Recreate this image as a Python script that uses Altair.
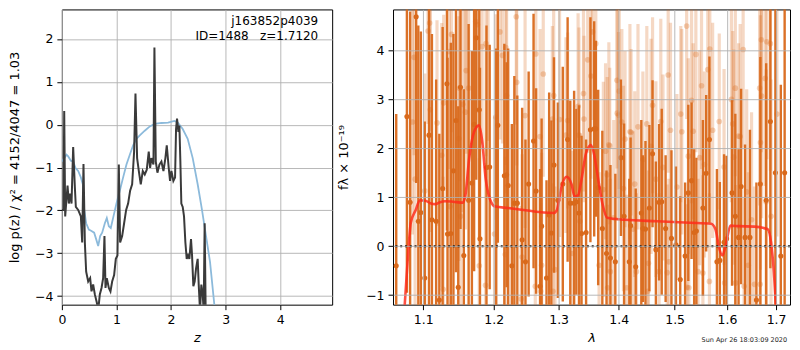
import altair as alt
import pandas as pd

# ---------------- left panel: log p(z) ----------------
z_black = [0.000, 0.030, 0.043, 0.061, 0.104, 0.128, 0.152, 0.177, 0.207, 0.238,
           0.256, 0.299, 0.348, 0.372, 0.396, 0.421, 0.445, 0.482, 0.518, 0.543,
           0.573, 0.604, 0.640, 0.665, 0.695, 0.726, 0.756, 0.780, 0.799, 0.823,
           0.860, 0.890, 0.921, 0.957, 0.988, 1.018, 1.043, 1.067, 1.104, 1.140,
           1.177, 1.213, 1.250, 1.287, 1.323, 1.348, 1.378, 1.409, 1.445, 1.482,
           1.518, 1.555, 1.591, 1.616, 1.640, 1.677, 1.695, 1.720, 1.750, 1.787,
           1.823, 1.860, 1.896, 1.921, 1.957, 1.981, 2.006, 2.042, 2.073, 2.091,
           2.109, 2.134, 2.152, 2.170, 2.188, 2.213, 2.237, 2.262, 2.286, 2.310,
           2.335, 2.365, 2.384, 2.408, 2.432, 2.457, 2.487, 2.506, 2.530, 2.554,
           2.579, 2.597, 2.615, 2.634, 2.652]
lp_black = [-1.99, -1.99, 0.32, -2.14, -1.42, -1.84, -1.61, -1.84, -0.52, -1.46,
            -1.92, -1.99, -2.14, -2.75, -0.92, -2.75, -3.43, -3.66, -3.58, -3.89,
            -3.73, -3.96, -4.15, -4.34, -3.96, -3.81, -3.58, -2.60, -3.81, -3.58,
            -3.81, -3.89, -3.66, -3.51, -3.13, -3.05, -0.93, -2.75, -2.60, -2.30,
            -1.99, -1.84, -1.54, -1.39, -0.63, 0.73, -0.78, -1.08, -1.39, -1.08,
            -1.16, -1.05, -0.63, -1.01, -0.78, -0.93, 1.80, -0.86, -1.12, -0.93,
            -0.86, -1.08, -0.78, -0.48, -1.01, -1.31, -1.08, -1.31, -1.23, -0.10,
            0.14, -0.17, -0.02, -0.86, -1.84, -1.92, -2.14, -2.75, -3.13, -3.05,
            -3.13, -2.67, -3.05, -3.77, -3.66, -3.36, -3.13, -3.73, -4.34, -3.73,
            -3.96, -4.34, -2.30, -4.42, -5.60]

z_blue = [0.000, 0.043, 0.085, 0.116, 0.165, 0.207, 0.250, 0.299, 0.348, 0.384,
          0.409, 0.445, 0.494, 0.543, 0.591, 0.628, 0.665, 0.701, 0.738, 0.787,
          0.823, 0.860, 0.896, 0.945, 1.000, 1.061, 1.122, 1.183, 1.244, 1.305,
          1.366, 1.427, 1.518, 1.610, 1.701, 1.823, 1.945, 2.060, 2.121, 2.213,
          2.304, 2.396, 2.487, 2.566, 2.640, 2.713, 2.792, 2.835]
lp_blue = [-0.86, -0.78, -0.70, -0.74, -0.84, -0.86, -1.01, -1.08, -1.23, -1.39,
           -1.99, -2.30, -2.45, -2.48, -2.52, -2.67, -2.83, -2.60, -2.52, -2.30,
           -2.18, -2.37, -2.41, -2.14, -1.84, -1.54, -1.23, -0.93, -0.70, -0.48,
           -0.33, -0.25, -0.14, -0.04, 0.02, 0.04, 0.05, 0.09, 0.05, -0.10,
           -0.33, -0.78, -1.39, -1.99, -2.60, -3.20, -4.20, -4.87]

z_ticks = [0, 1, 2, 3, 4]
lp_ticks = [-4, -3, -2, -1, 0, 1, 2]
label_obj = "j163852p4039"
label_id = "ID=1488\u00a0\u00a0\u00a0z=1.7120"

# ---------------- right panel: spectrum ----------------
dark_wave = [1.0640, 1.0781, 1.0824, 1.0905, 1.0934, 1.0968, 1.1021, 1.1079, 1.1119, 1.1177,
             1.1221, 1.1267, 1.1327, 1.1335, 1.1381, 1.1418, 1.1454, 1.1486, 1.1518, 1.1565,
             1.1634, 1.1681, 1.1713, 1.1744, 1.1788, 1.1798, 1.1893, 1.1940, 1.2037, 1.2061,
             1.2158, 1.2192, 1.2216, 1.2271, 1.2309, 1.2354, 1.2428, 1.2479, 1.2528, 1.2604,
             1.2644, 1.2706, 1.2730, 1.2807, 1.2849, 1.2884, 1.2926, 1.2988, 1.3067, 1.3145,
             1.3188, 1.3251, 1.3287, 1.3331, 1.3373, 1.3448, 1.3520, 1.3583, 1.3610, 1.3650,
             1.3720, 1.3791, 1.3858, 1.3942, 1.4038, 1.4093, 1.4184, 1.4207, 1.4297, 1.4396,
             1.4424, 1.4470, 1.4540, 1.4597, 1.4657, 1.4715, 1.4763, 1.4834, 1.4941, 1.5024,
             1.5104, 1.5195, 1.5255, 1.5316, 1.5366, 1.5408, 1.5532, 1.5595, 1.5658, 1.5803,
             1.5860, 1.5943, 1.5993, 1.6101, 1.6166, 1.6231, 1.6282, 1.6361, 1.6460, 1.6592,
             1.6673, 1.6793, 1.6880, 1.6985, 1.7099, 1.7180]
dark_flux = [-0.40, 2.65, 0.90, 4.69, 0.51, 0.69, -0.65, 2.27, 0.54, 0.51,
             -1.10, 1.18, 3.32, 0.25, 0.26, 1.54, 2.57, -0.84, 3.25, -0.19,
             0.94, 1.29, 2.49, 4.26, 2.79, 0.15, 1.61, 1.62, 0.94, 2.47,
             1.44, 1.46, 1.24, -0.40, 0.88, 0.88, 0.13, -0.32, 1.27, 2.15,
             1.13, -0.82, 0.41, -0.65, 0.64, 0.27, 1.66, 0.94, 1.27, 2.18,
             0.88, 0.88, 0.91, 0.68, 0.26, 0.28, 2.38, 2.40, 2.40, 1.20,
             0.36, -0.15, -0.24, -0.32, 1.81, 0.61, -0.32, 0.42, -0.42, 0.68,
             0.36, 0.35, 0.78, 1.89, -0.07, 0.90, 0.91, 0.36, 0.16, 0.03,
             -0.68, -0.20, 1.09, 1.34, 0.28, 0.31, 0.78, 1.49, 2.18, -0.32,
             -0.29, 0.08, 0.15, 1.09, 0.61, 0.18, 1.22, 0.18, 0.18, -1.10,
             1.27, 0.94, 2.55, 1.50, -0.20, 1.50]
dark_err = [3.1, 3.6, 3.9, 3.4, 4.0, 3.7, 3.2, 3.5, 3.8, 2.9,
            3.4, 3.3, 3.0, 3.6, 3.9, 2.8, 3.1, 3.7, 2.9, 3.4,
            3.6, 2.7, 3.0, 2.9, 2.6, 3.5, 2.9, 2.5, 3.1, 2.4,
            2.7, 2.3, 2.8, 2.9, 2.6, 2.2, 2.7, 2.5, 2.3, 2.6,
            2.1, 2.4, 2.2, 2.0, 2.5, 2.3, 2.2, 2.0, 2.4, 2.5,
            2.1, 2.3, 1.9, 2.2, 2.0, 1.9, 2.3, 2.2, 1.8, 2.0,
            2.0, 1.7, 1.9, 1.8, 1.6, 1.9, 1.7, 1.8, 1.6, 1.9,
            1.5, 1.8, 1.7, 1.5, 1.8, 1.6, 1.9, 1.5, 1.8, 1.6,
            1.7, 1.5, 1.8, 1.6, 1.7, 1.5, 1.8, 1.6, 1.7, 1.9,
            1.6, 1.8, 1.7, 1.9, 2.1, 1.8, 2.0, 1.9, 2.2, 2.4,
            2.6, 2.8, 3.0, 3.6, 3.5, 4.0]

light_wave = [1.0855, 1.0877, 1.0891, 1.1021, 1.1066, 1.1088, 1.1097, 1.1189, 1.1255, 1.1274,
              1.1282, 1.1358, 1.1372, 1.1391, 1.1494, 1.1504, 1.1518, 1.1551, 1.1588, 1.1598,
              1.1634, 1.1736, 1.1760, 1.1788, 1.1829, 1.1879, 1.1886, 1.1916, 1.2012, 1.2031,
              1.2092, 1.2130, 1.2172, 1.2180, 1.2192, 1.2338, 1.2345, 1.2413, 1.2428, 1.2473,
              1.2631, 1.2639, 1.2706, 1.2715, 1.2730, 1.2756, 1.2900, 1.2910, 1.2921, 1.2941,
              1.3015, 1.3118, 1.3145, 1.3224, 1.3316, 1.3331, 1.3347, 1.3405, 1.3413, 1.3475,
              1.3529, 1.3557, 1.3610, 1.3665, 1.3737, 1.3775, 1.3803, 1.3810, 1.3831, 1.3846,
              1.3855, 1.3914, 1.3970, 1.3975, 1.3997, 1.4009, 1.4054, 1.4082, 1.4110, 1.4138,
              1.4195, 1.4215, 1.4251, 1.4280, 1.4309, 1.4337, 1.4424, 1.4494, 1.4510, 1.4523,
              1.4570, 1.4597, 1.4657, 1.4715, 1.4746, 1.4786, 1.4863, 1.4881, 1.4893, 1.4923,
              1.5042, 1.5114, 1.5133, 1.5224, 1.5230, 1.5255, 1.5265, 1.5316, 1.5347, 1.5398,
              1.5439, 1.5470, 1.5506, 1.5532, 1.5563, 1.5626, 1.5658, 1.5665, 1.5720, 1.5849,
              1.5943, 1.5955, 1.6088, 1.6115, 1.6134, 1.6166, 1.6172, 1.6231, 1.6263, 1.6323,
              1.6342, 1.6394, 1.6427, 1.6493, 1.6553, 1.6659, 1.6668, 1.6675, 1.6693, 1.6700,
              1.6773, 1.6793, 1.6807, 1.6880, 1.6894, 1.7017]
light_flux = [2.54, 3.86, 1.37, 1.13, 4.40, 4.56, 2.79, 2.52, 1.86, -0.88,
              2.93, 3.98, 0.81, 4.33, 2.20, 3.23, 0.61, 2.90, 2.74, 3.59,
              3.23, 4.59, 4.53, -0.40, 4.08, -0.80, 4.14, 4.05, 0.25, 2.64,
              4.38, 3.90, -0.17, 4.06, 3.08, 4.69, 3.35, -1.08, -0.22, 2.67,
              -0.82, 3.93, 2.24, -0.92, -0.39, 3.52, 2.60, -0.92, 3.08, -0.48,
              2.59, 2.27, 2.57, -0.15, 2.86, 2.27, 0.51, 3.12, 2.60, 3.81,
              3.48, 4.38, 4.14, -0.39, 1.16, 1.94, 1.46, -0.85, 2.07, 2.05,
              -0.52, 0.58, 3.39, 2.72, 2.68, 3.17, 2.54, 1.18, 2.19, -0.85,
              2.34, 2.33, 0.35, 1.27, -0.52, 2.44, 1.77, 2.50, -0.92, -0.35,
              2.04, 2.88, 1.37, -0.52, 2.55, 1.61, -0.54, 3.50, -0.32, 2.37,
              1.21, 2.70, 2.34, 4.50, -0.84, 1.84, -0.85, 2.98, 2.35, 3.92,
              -0.52, 1.81, 3.28, -0.55, 1.67, 3.61, -0.72, 4.03, 2.37, 2.55,
              1.62, -0.75, 3.00, 2.50, 1.82, 3.23, -0.75, 2.25, 2.24, 4.02,
              -0.82, 1.11, -0.39, 0.54, -0.78, 3.23, -0.78, 2.12, 4.22, 3.07,
              3.43, 0.91, 4.18, 4.14, 0.61, 2.70]
light_err = [2.3, 2.0, 2.6, 2.4, 1.9, 2.2, 2.5, 2.1, 2.7, 2.3,
             1.8, 2.4, 2.2, 2.0, 2.5, 1.9, 2.6, 2.2, 2.4, 1.7,
             2.3, 2.1, 1.8, 2.2, 2.0, 2.5, 2.3, 1.9, 2.4, 2.1,
             2.2, 1.8, 2.0, 2.4, 2.0, 2.2, 1.7, 1.9, 2.1, 2.3,
             2.0, 1.9, 2.2, 1.8, 2.3, 2.1, 1.9, 2.2, 2.0, 1.7,
             2.4, 2.0, 1.8, 2.1, 1.9, 2.2, 1.8, 2.0, 1.7, 1.9,
             2.1, 1.8, 2.0, 1.9, 2.2, 1.8, 2.0, 1.7, 2.1, 1.6,
             1.9, 2.0, 1.8, 2.2, 1.7, 2.0, 1.9, 2.1, 1.8, 1.9,
             2.2, 1.7, 2.0, 1.9, 1.6, 2.1, 1.8, 2.0, 1.7, 1.9,
             2.2, 1.8, 2.0, 1.6, 2.1, 1.9, 1.8, 2.0, 1.7, 2.2,
             1.9, 1.8, 2.1, 1.9, 1.7, 2.0, 1.8, 2.1, 1.8, 2.0,
             1.9, 2.2, 1.7, 2.0, 1.9, 2.1, 1.8, 1.9, 2.2, 1.8,
             2.0, 1.7, 2.1, 1.9, 2.2, 1.8, 2.0, 1.9, 2.3, 2.0,
             1.8, 2.1, 1.9, 2.2, 2.0, 2.4, 2.1, 2.6, 2.3, 2.5,
             2.2, 2.7, 2.4, 2.6, 2.8, 2.5]

model_wave = [1.0727, 1.0790, 1.0833, 1.0899, 1.0955, 1.1030, 1.1097, 1.1164, 1.1231, 1.1299,
              1.1413, 1.1552, 1.1588, 1.1643, 1.1713, 1.1784, 1.1831, 1.1879, 1.1950, 1.2022,
              1.2216, 1.2513, 1.2763, 1.2921, 1.2972, 1.3051, 1.3129, 1.3208, 1.3261, 1.3316,
              1.3369, 1.3448, 1.3529, 1.3583, 1.3637, 1.3720, 1.3803, 1.4110, 1.4685, 1.5286,
              1.5689, 1.5773, 1.5849, 1.5910, 1.5974, 1.6069, 1.6231, 1.6553, 1.6820, 1.6894,
              1.6947, 1.6995, 1.7029]
model_flux = [-1.78, -0.32, 0.48, 0.74, 0.94, 0.93, 0.88, 0.86, 0.90, 0.92,
              0.91, 0.89, 1.04, 1.81, 2.34, 2.47, 2.14, 1.41, 0.94, 0.81,
              0.78, 0.73, 0.69, 0.68, 0.74, 1.24, 1.42, 1.27, 1.01, 1.04,
              1.34, 1.91, 2.07, 1.87, 1.47, 0.88, 0.58, 0.54, 0.51, 0.48,
              0.46, 0.35, -0.05, -0.19, 0.01, 0.42, 0.41, 0.40, 0.35, 0.08,
              -0.45, -1.20, -1.78]

wave_ticks = [1.1, 1.2, 1.3, 1.4, 1.5, 1.6, 1.7]
flux_ticks = [-1, 0, 1, 2, 3, 4]
date_label = "Sun Apr 26 18:03:09 2020"

assert len(z_black) == len(lp_black) and len(z_blue) == len(lp_blue)
assert len(dark_wave) == len(dark_flux) == len(dark_err)
assert len(light_wave) == len(light_flux) == len(light_err)
assert len(model_wave) == len(model_flux)

FONT = "DejaVu Sans"
ORANGE = "#d9691b"

# ---------- left chart ----------
df_black = pd.DataFrame({"z": z_black, "lp": lp_black})
df_blue = pd.DataFrame({"z": z_blue, "lp": lp_blue})

xL = alt.X("z:Q", scale=alt.Scale(domain=[0, 4.95], nice=False, zero=False),
           axis=alt.Axis(values=z_ticks, format="d", title="z", titleFontStyle="italic"))
yL = alt.Y("lp:Q", scale=alt.Scale(domain=[-4.2, 2.69], nice=False, zero=False),
           axis=alt.Axis(values=lp_ticks, format="d", titlePadding=13,
                         title="log p(z) / χ² = 4152/4047 = 1.03"))

blue = alt.Chart(df_blue).mark_line(color="#8cbadb", strokeWidth=1.8, clip=True).encode(x=xL, y=yL)
black = alt.Chart(df_black).mark_line(color="#3a3a3a", strokeWidth=2.0, clip=True).encode(x=xL, y=yL)
t1 = alt.Chart(pd.DataFrame({"t": [label_obj]})).mark_text(
    align="right", baseline="middle", fontSize=12, font=FONT, color="black"
).encode(x=alt.value(257), y=alt.value(12), text="t:N")
t2 = alt.Chart(pd.DataFrame({"t": [label_id]})).mark_text(
    align="right", baseline="middle", fontSize=12, font=FONT, color="black"
).encode(x=alt.value(257), y=alt.value(27), text="t:N")

left = alt.layer(blue, black, t1, t2).properties(width=271, height=296)

# ---------- right chart ----------
dfD = pd.DataFrame({"wave": dark_wave, "flux": dark_flux, "err": dark_err})
dfD["lo"] = dfD["flux"] - dfD["err"]
dfD["hi"] = dfD["flux"] + dfD["err"]
dfL = pd.DataFrame({"wave": light_wave, "flux": light_flux, "err": light_err})
dfL["lo"] = dfL["flux"] - dfL["err"]
dfL["hi"] = dfL["flux"] + dfL["err"]
dfM = pd.DataFrame({"wave": model_wave, "model": model_flux})

xR = alt.X("wave:Q", scale=alt.Scale(type="log", domain=[1.0598, 1.7294], nice=False),
           axis=alt.Axis(values=wave_ticks, format=".1f", title="λ", titleFontStyle="italic", zindex=1))


def yR(field):
    return alt.Y(f"{field}:Q", scale=alt.Scale(domain=[-1.195, 4.84], nice=False, zero=False),
                 axis=alt.Axis(values=flux_ticks, format="d", title="fλ × 10⁻¹⁹", zindex=1))


light_bars = alt.Chart(dfL).mark_rule(color=ORANGE, opacity=0.26, strokeWidth=3.2, clip=True).encode(
    x=xR, y=yR("lo"), y2="hi:Q")
light_pts = alt.Chart(dfL).mark_circle(color=ORANGE, opacity=0.3, size=32, clip=True).encode(
    x=xR, y=yR("flux"))
dark_bars = alt.Chart(dfD).mark_rule(color=ORANGE, opacity=0.95, strokeWidth=2.4, clip=True).encode(
    x=xR, y=yR("lo"), y2="hi:Q")
dark_pts = alt.Chart(dfD).mark_circle(color=ORANGE, opacity=1, size=26, clip=True).encode(
    x=xR, y=yR("flux"))
model = alt.Chart(dfM).mark_line(color="#ff2a1a", opacity=0.82, strokeWidth=2.6, clip=True,
                                 interpolate="monotone").encode(x=xR, y=yR("model"))
zero = alt.Chart(pd.DataFrame({"zero": [0.0]})).mark_rule(
    color="black", strokeDash=[2, 2.8], strokeWidth=2).encode(y=yR("zero"))
date = alt.Chart(pd.DataFrame({"t": [date_label]})).mark_text(
    align="right", baseline="middle", fontSize=6.5, font=FONT, color="#222222"
).encode(x=alt.value(395), y=alt.value(331), text="t:N")

right = alt.layer(light_bars, light_pts, dark_bars, dark_pts, model, zero, date).properties(
    width=398, height=296)

chart = alt.hconcat(left, right, spacing=4).properties(padding=0).configure_view(
    stroke="black", strokeWidth=1
).configure_axis(
    labelFont=FONT, titleFont=FONT, labelFontSize=12.5, titleFontSize=13,
    labelColor="black", titleColor="black", tickColor="black", tickSize=5,
    labelPadding=4, titlePadding=15, domain=False, gridColor="#b0b0b0",
    gridWidth=0.9, titleFontWeight="normal", labelFlush=False
).configure_axisX(titlePadding=5)

chart.save("out.html", embed_options={"renderer": "svg", "actions": False})
